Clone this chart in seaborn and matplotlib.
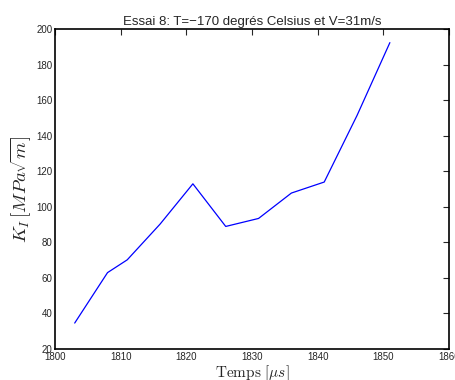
import matplotlib
matplotlib.use("Agg")
import matplotlib.pyplot as plt
import seaborn as sns
import pandas as pd

# Stress intensity factor over time, test 8
temps = [1803, 1808, 1811, 1816, 1821, 1826, 1831, 1836, 1841, 1846, 1851]
k_i = [34.6, 63.0, 70.2, 90.3, 113.0, 89.0, 93.5, 107.8, 114.0, 151.5, 192.5]

x_ticks = [1800, 1810, 1820, 1830, 1840, 1850, 1860]
y_ticks = [20, 40, 60, 80, 100, 120, 140, 160, 180, 200]

sns.set_style("white")
plt.rcParams["font.family"] = ["Liberation Sans", "DejaVu Sans"]
plt.rcParams["mathtext.fontset"] = "cm"

df = pd.DataFrame({"temps": temps, "k": k_i})

fig = plt.figure(figsize=(4.56, 3.8), dpi=100)
ax = fig.add_axes([0.1206, 0.0816, 0.864, 0.8413])
sns.lineplot(data=df, x="temps", y="k", ax=ax, color=(0, 0, 1), lw=0.9)

ax.set_xlim(1800, 1860)
ax.set_ylim(20, 200)
ax.set_xticks(x_ticks)
ax.set_yticks(y_ticks)
ax.tick_params(axis="both", direction="in", length=4, width=0.8,
               labelsize=7, top=True, right=True, pad=2)
for s in ax.spines.values():
    s.set_linewidth(1.2)
    s.set_color("black")

ax.set_title("Essai 8: T=\u2212170 degrés Celsius et V=31m/s", fontsize=9.5, pad=3)
ax.set_xlabel(r"$\mathrm{Temps}\ [\mu s]$", fontsize=11, labelpad=1)
ax.set_ylabel(r"$K_I\,[MPa\sqrt{m}]$", fontsize=13.5, labelpad=2)

fig.savefig("out.png", dpi=100)
